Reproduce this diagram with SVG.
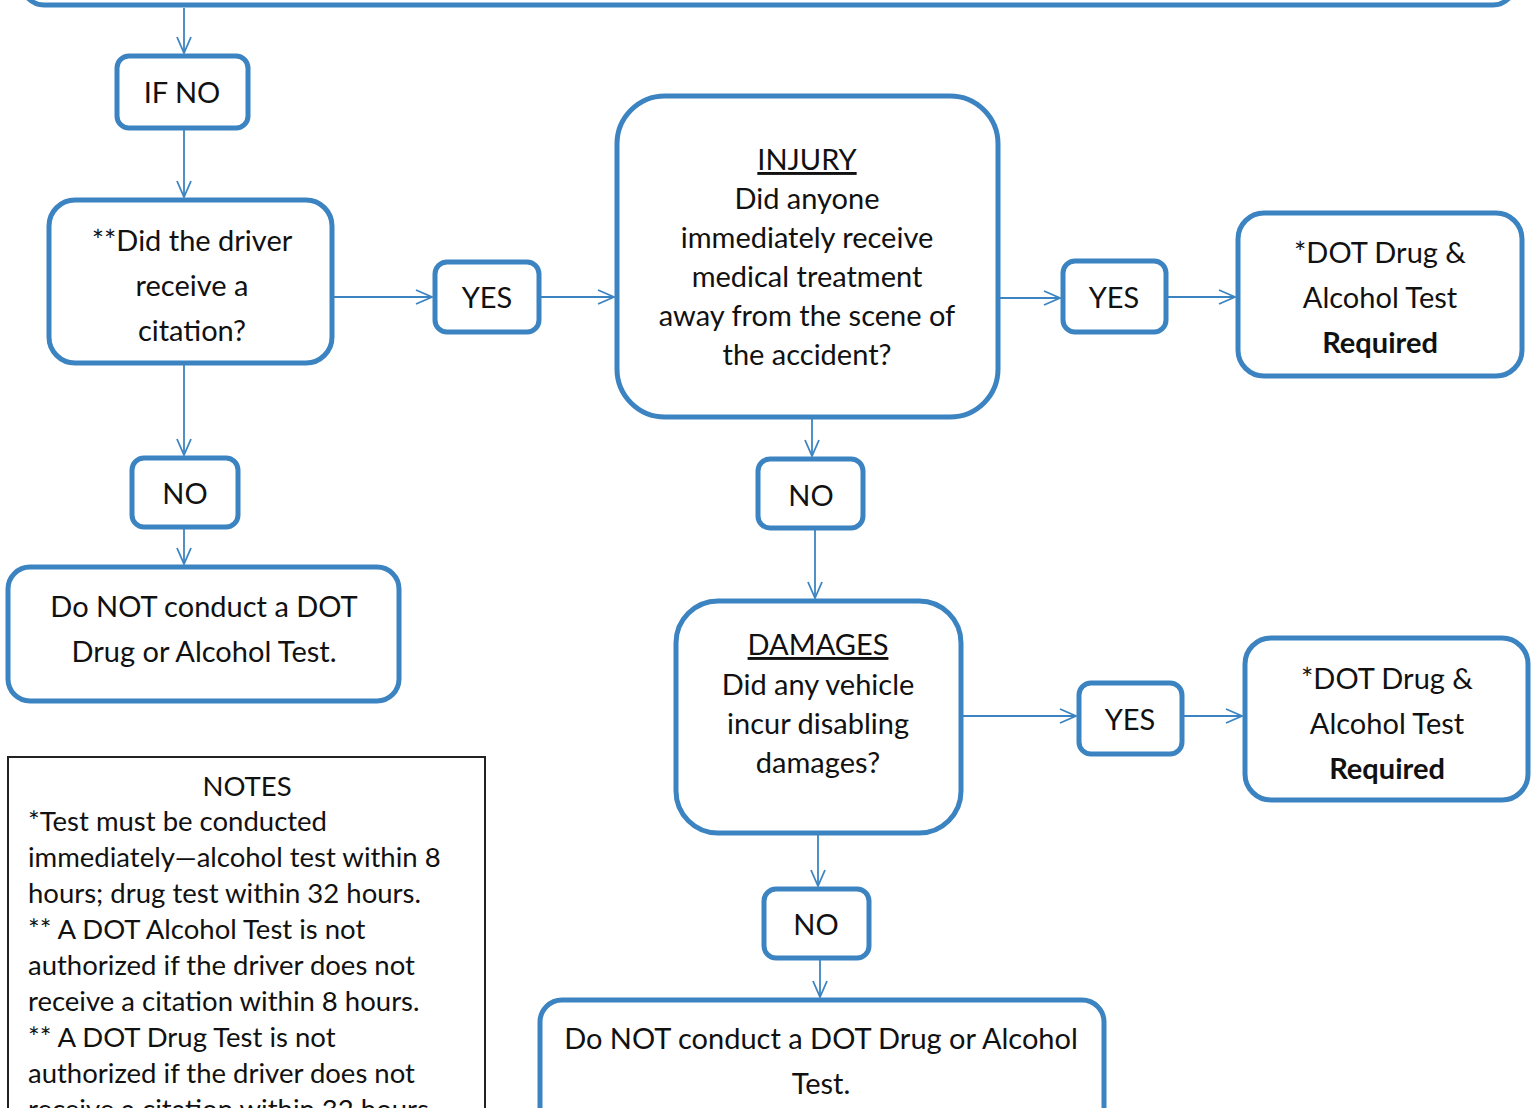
<svg xmlns="http://www.w3.org/2000/svg" width="1536" height="1108" viewBox="0 0 1536 1108">
<style>
.box{fill:#fff;stroke:#3c84c1;stroke-width:5}
.t{font-family:Lato,"Liberation Sans",sans-serif;font-size:29px;fill:#111;text-anchor:middle}
.n{font-family:Lato,"Liberation Sans",sans-serif;font-size:27.5px;fill:#111}
.c{stroke:#3c84c1;stroke-width:1.8;fill:none}
.b{font-weight:bold}
</style>
<defs>
<marker id="ah" markerWidth="20" markerHeight="20" refX="17" refY="8" orient="auto" markerUnits="userSpaceOnUse">
<path d="M1,1 L17,8 L1,15" fill="none" stroke="#3c84c1" stroke-width="1.8"/>
</marker>
</defs>
<rect width="1536" height="1108" fill="#fff"/>
<g id="connectors">
<line class="c" x1="184" y1="8" x2="184" y2="53" marker-end="url(#ah)"/>
<line class="c" x1="184" y1="128" x2="184" y2="197" marker-end="url(#ah)"/>
<line class="c" x1="332" y1="297" x2="432" y2="297" marker-end="url(#ah)"/>
<line class="c" x1="539" y1="297" x2="614" y2="297" marker-end="url(#ah)"/>
<line class="c" x1="1000" y1="298" x2="1060" y2="298" marker-end="url(#ah)"/>
<line class="c" x1="1166" y1="297" x2="1235" y2="297" marker-end="url(#ah)"/>
<line class="c" x1="812" y1="417" x2="812" y2="456" marker-end="url(#ah)"/>
<line class="c" x1="815" y1="528" x2="815" y2="598" marker-end="url(#ah)"/>
<line class="c" x1="961" y1="716" x2="1076" y2="716" marker-end="url(#ah)"/>
<line class="c" x1="1182" y1="716" x2="1242" y2="716" marker-end="url(#ah)"/>
<line class="c" x1="818" y1="833" x2="818" y2="886" marker-end="url(#ah)"/>
<line class="c" x1="820" y1="958" x2="820" y2="997" marker-end="url(#ah)"/>
<line class="c" x1="184" y1="363" x2="184" y2="455" marker-end="url(#ah)"/>
<line class="c" x1="184" y1="527" x2="184" y2="564" marker-end="url(#ah)"/>
</g>
<g id="top"><rect class="box" x="22" y="-60" width="1493" height="65" rx="22"/></g>
<g id="ifno"><rect class="box" x="117" y="56" width="131" height="72" rx="12"/><text class="t" x="182" y="103">IF NO</text></g>
<g id="citation"><rect class="box" x="49" y="200" width="283" height="163" rx="26"/>
<text class="t" x="192" y="251">**Did the driver</text><text class="t" x="192" y="296">receive a</text><text class="t" x="192" y="341">citation?</text></g>
<g id="yes1"><rect class="box" x="435" y="262" width="104" height="70" rx="12"/><text class="t" x="487" y="308">YES</text></g>
<g id="injury"><rect class="box" x="617" y="96" width="381" height="321" rx="48"/>
<text class="t" x="807" y="170" text-decoration="underline">INJURY</text>
<text class="t" x="807" y="209">Did anyone</text>
<text class="t" x="807" y="248">immediately receive</text>
<text class="t" x="807" y="287">medical treatment</text>
<text class="t" x="807" y="326">away from the scene of</text>
<text class="t" x="807" y="365">the accident?</text></g>
<g id="yes2"><rect class="box" x="1063" y="261" width="103" height="71" rx="12"/><text class="t" x="1114" y="308">YES</text></g>
<g id="req1"><rect class="box" x="1238" y="213" width="284" height="163" rx="26"/>
<text class="t" x="1380" y="263">*DOT Drug &amp;</text><text class="t" x="1380" y="308">Alcohol Test</text><text class="t b" x="1380" y="353">Required</text></g>
<g id="no2"><rect class="box" x="758" y="459" width="105" height="69" rx="12"/><text class="t" x="811" y="506">NO</text></g>
<g id="damages"><rect class="box" x="676" y="601" width="285" height="232" rx="42"/>
<text class="t" x="818" y="655" text-decoration="underline">DAMAGES</text>
<text class="t" x="818" y="695">Did any vehicle</text>
<text class="t" x="818" y="734">incur disabling</text>
<text class="t" x="818" y="773">damages?</text></g>
<g id="yes3"><rect class="box" x="1079" y="683" width="103" height="71" rx="12"/><text class="t" x="1130" y="730">YES</text></g>
<g id="req2"><rect class="box" x="1245" y="638" width="283" height="162" rx="26"/>
<text class="t" x="1387" y="689">*DOT Drug &amp;</text><text class="t" x="1387" y="734">Alcohol Test</text><text class="t b" x="1387" y="779">Required</text></g>
<g id="no3"><rect class="box" x="764" y="889" width="105" height="69" rx="12"/><text class="t" x="816" y="935">NO</text></g>
<g id="bottom"><rect class="box" x="540" y="1000" width="564" height="130" rx="22"/>
<text class="t" x="821" y="1049">Do NOT conduct a DOT Drug or Alcohol</text><text class="t" x="821" y="1094">Test.</text></g>
<g id="no1"><rect class="box" x="132" y="458" width="106" height="69" rx="12"/><text class="t" x="185" y="504">NO</text></g>
<g id="donot1"><rect class="box" x="8" y="567" width="391" height="134" rx="22"/>
<text class="t" x="204" y="617">Do NOT conduct a DOT</text><text class="t" x="204" y="662">Drug or Alcohol Test.</text></g>
<g id="notes"><rect x="8" y="757" width="477" height="380" fill="#fff" stroke="#222" stroke-width="2"/>
<text class="n" x="247" y="796" text-anchor="middle">NOTES</text>
<text class="n" x="28" y="831">*Test must be conducted</text>
<text class="n" x="28" y="867">immediately—alcohol test within 8</text>
<text class="n" x="28" y="903">hours; drug test within 32 hours.</text>
<text class="n" x="28" y="939">** A DOT Alcohol Test is not</text>
<text class="n" x="28" y="975">authorized if the driver does not</text>
<text class="n" x="28" y="1011">receive a citation within 8 hours.</text>
<text class="n" x="28" y="1047">** A DOT Drug Test is not</text>
<text class="n" x="28" y="1083">authorized if the driver does not</text>
<text class="n" x="28" y="1119">receive a citation within 32 hours.</text></g>
</svg>
